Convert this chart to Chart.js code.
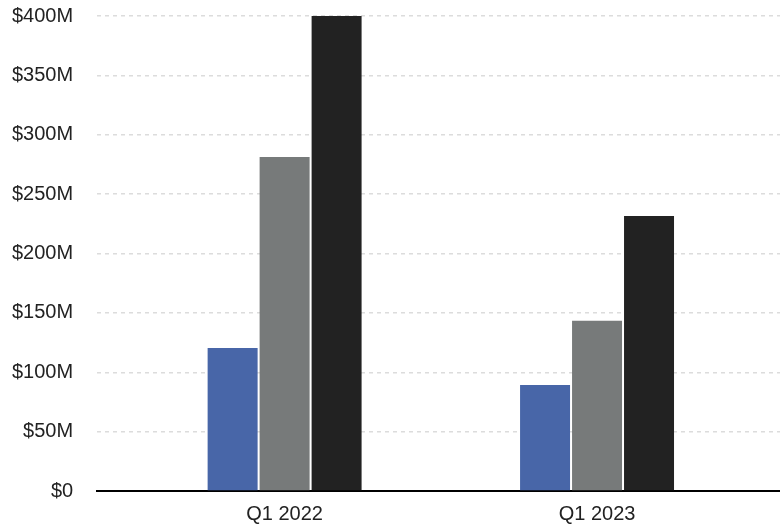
<!DOCTYPE html>
<html>
<head>
<meta charset="utf-8">
<script src="https://cdn.jsdelivr.net/npm/chart.js@4/dist/chart.umd.min.js"></script>
<style>
  html, body { margin: 0; padding: 0; background: #fff; }
  #wrap { width: 780px; height: 529px; }
</style>
</head>
<body>
<div id="wrap"><canvas id="revenueChart"></canvas></div>
<script>
const quarters = ['Q1 2022', 'Q1 2023'];
const seriesBlue = [120.5, 89.3];   // $M
const seriesGray = [281.3, 143.4];
const seriesBlack = [401, 231.6];
const yTicks = [0, 50, 100, 150, 200, 250, 300, 350, 400];

const FONT = { family: "'Helvetica Neue', 'Liberation Sans', Arial, sans-serif", size: 20 };

const ctx = document.getElementById('revenueChart');
new Chart(ctx, {
    type: 'bar',
    data: {
        labels: quarters,
        datasets: [
            { data: seriesBlue, backgroundColor: '#4866a8' },
            { data: seriesGray, backgroundColor: '#777a7a' },
            { data: seriesBlack, backgroundColor: '#222222' }
        ]
    },
    options: {
        responsive: true,
        maintainAspectRatio: false,
        animation: false,
        layout: { padding: { top: 16, left: 8, right: 0, bottom: 0 } },
        datasets: {
            bar: { categoryPercentage: 0.4992, barPercentage: 0.9615 }
        },
        plugins: {
            legend: { display: false },
            tooltip: { enabled: false }
        },
        scales: {
            x: {
                // groups sit a bit further in than the default half category
                afterBuildTicks: function(scale) {
                    scale._startValue = -0.6;
                    scale._valueRange = 2.1856;
                },
                grid: { display: false, drawTicks: true, tickLength: 8 },
                border: { display: true, color: '#000', width: 2 },
                ticks: { color: '#222', font: FONT, padding: 3 }
            },
            y: {
                min: 0,
                max: 400,
                afterBuildTicks: function(scale) {
                    scale.ticks = yTicks.map(v => ({ value: v }));
                },
                grid: {
                    drawTicks: true,
                    tickLength: 20,
                    tickColor: 'rgba(0,0,0,0)',
                    color: ctx => ctx.tick && ctx.tick.value === 0 ? 'rgba(0,0,0,0)' : '#dcdcdc',
                    lineWidth: 1.5
                },
                border: { display: false, dash: [4, 4] },
                ticks: {
                    color: '#222',
                    font: FONT,
                    padding: 4,
                    callback: v => v === 0 ? '$0' : '$' + v + 'M'
                }
            }
        }
    }
});
</script>
</body>
</html>
